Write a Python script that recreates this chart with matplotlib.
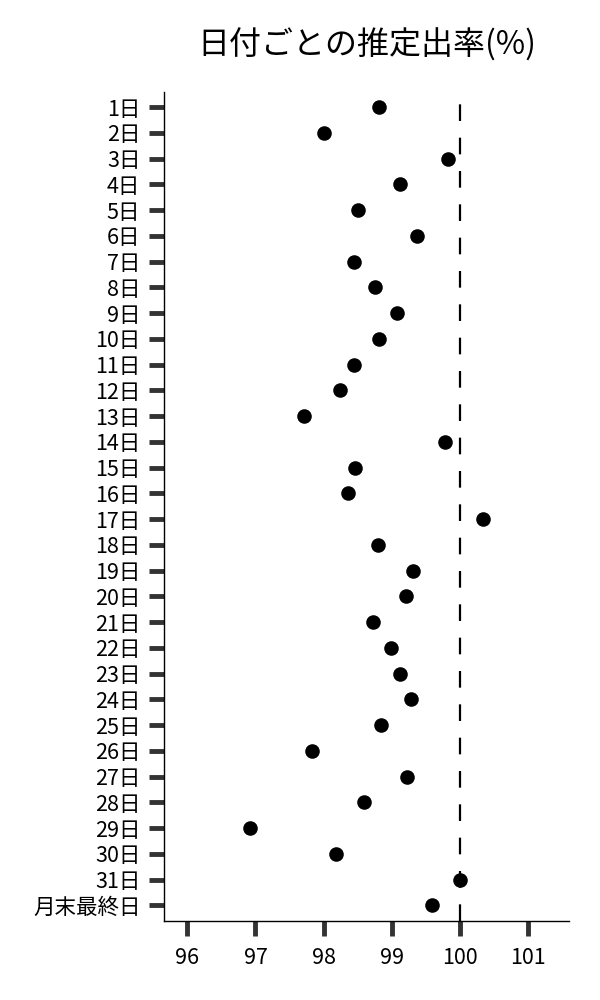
import matplotlib
matplotlib.use("Agg")
import matplotlib.pyplot as plt

plt.rcParams['font.family'] = ['Noto Sans CJK JP', 'DejaVu Sans']

days = [f"{i}日" for i in range(1, 32)] + ["月末最終日"]
rates = [98.81, 98.01, 99.83, 99.12, 98.50, 99.37, 98.45, 98.76, 99.08, 98.81,
         98.45, 98.24, 97.71, 99.78, 98.46, 98.36, 100.34, 98.80, 99.31, 99.21,
         98.72, 98.99, 99.13, 99.28, 98.85, 97.83, 99.22, 98.59, 96.92, 98.19,
         100.00, 99.59]
xticks = [96, 97, 98, 99, 100, 101]
ref_value = 100
title = "日付ごとの推定出率(%)"

fig = plt.figure(figsize=(6, 10), dpi=100)
ax = fig.add_axes([0.2733, 0.0793, 0.675, 0.829])

ypos = list(range(len(days)))
ax.scatter(rates, ypos, s=110, color='black', zorder=3, linewidths=0)
ax.axvline(ref_value, color='black', lw=1.6, ls=(0, (7.5, 7.5)), zorder=2)

ax.set_yticks(ypos)
ax.set_yticklabels(days)
ax.set_xticks(xticks)
ax.set_xticklabels([str(v) for v in xticks])
ax.set_xlim(95.656, 101.607)
ax.set_ylim(31.6, -0.6)

for s in ['top', 'right']:
    ax.spines[s].set_visible(False)
for s in ['left', 'bottom']:
    ax.spines[s].set_linewidth(1.0)
    ax.spines[s].set_color('black')

ax.tick_params(axis='both', length=11, width=3.5, color='#333333',
               labelsize=15.5, pad=6, direction='out')
ax.tick_params(axis='x', pad=8)

ax.set_title(title, fontsize=23, pad=27)

fig.savefig("out.png", dpi=100)
